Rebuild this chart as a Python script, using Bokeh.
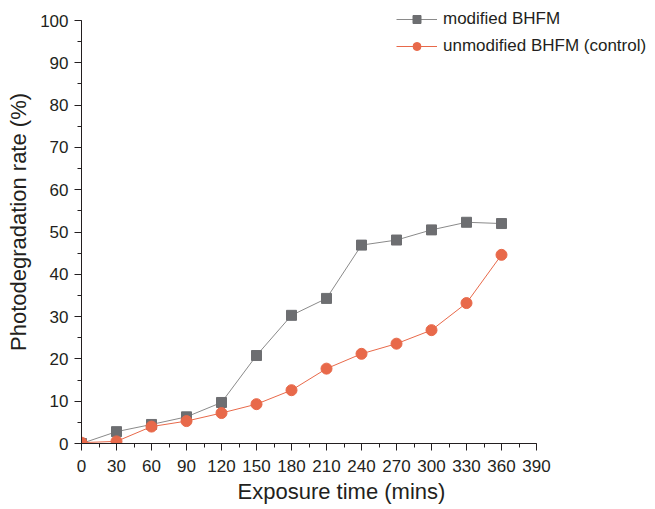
from bokeh.plotting import figure
from bokeh.models import Range1d, SingleIntervalTicker, Legend, LegendItem, Title
from bokeh.embed import file_html
from bokeh.resources import INLINE

time_mins = [0, 30, 60, 90, 120, 150, 180, 210, 240, 270, 300, 330, 360]
modified = [0.0, 2.8, 4.5, 6.3, 9.7, 20.8, 30.3, 34.3, 46.9, 48.1, 50.5, 52.3, 52.0]
unmodified = [0.2, 0.5, 4.0, 5.3, 7.2, 9.3, 12.6, 17.7, 21.2, 23.6, 26.8, 33.2, 44.6]
series_names = ["modified BHFM", "unmodified BHFM (control)"]
x_title = "Exposure time (mins)"
y_title = "Photodegradation rate (%)"
x_axis_max = 390
y_axis_max = 100

FONT = "Liberation Sans"
GRAY_LINE = "#8a8a8a"
GRAY_MARK = "#6d6e71"
ORANGE = "#e8694a"

W, H = 655, 509
LEFT, BOTTOM = 81, 66
frame_w = W - LEFT
frame_h = H - BOTTOM
# pixel scale: 390 min spans 455 px, 100 % spans 423 px
x_end = frame_w * x_axis_max / 455.0
y_end = frame_h * y_axis_max / 423.0

p = figure(width=W, height=H, output_backend="svg", toolbar_location=None,
           x_range=Range1d(0, x_end), y_range=Range1d(0, y_end),
           min_border_left=LEFT, min_border_right=0, min_border_top=0, min_border_bottom=BOTTOM)
p.outline_line_color = None
p.xgrid.grid_line_color = None
p.ygrid.grid_line_color = None
p.background_fill_color = "white"
p.border_fill_color = "white"

p.xaxis.ticker = SingleIntervalTicker(interval=30, num_minor_ticks=2)
p.yaxis.ticker = SingleIntervalTicker(interval=10, num_minor_ticks=2)
p.xaxis.bounds = (0, x_axis_max)
p.yaxis.bounds = (0, y_axis_max)
for ax in (p.xaxis[0], p.yaxis[0]):
    ax.axis_line_color = "#231f20"
    ax.axis_line_width = 1
    ax.major_tick_line_color = "#231f20"
    ax.minor_tick_line_color = "#231f20"
    ax.major_tick_out = 7
    ax.major_tick_in = 0
    ax.minor_tick_out = 4
    ax.minor_tick_in = 0
    ax.major_label_text_font = FONT
    ax.major_label_text_font_size = "17px"
    ax.major_label_text_color = "#231f20"
    ax.axis_label_text_font = FONT
    ax.axis_label_text_font_size = "22px"
    ax.axis_label_text_font_style = "normal"
    ax.axis_label_text_color = "#231f20"
p.yaxis.axis_label = y_title
p.xaxis.major_label_standoff = 9
p.yaxis.major_label_standoff = 6
p.yaxis.axis_label_standoff = 6

xt = Title(text=x_title, align="left", offset=156, standoff=4,
           text_font=FONT, text_font_size="22px", text_font_style="normal",
           text_color="#231f20")
p.add_layout(xt, "below")

l1 = p.line(time_mins, modified, line_color=GRAY_LINE, line_width=1)
m1 = p.scatter(time_mins, modified, marker="square", size=10, fill_color=GRAY_MARK, line_color=GRAY_MARK)
l2 = p.line(time_mins, unmodified, line_color=ORANGE, line_width=1)
m2 = p.scatter(time_mins, unmodified, marker="circle", size=11, fill_color=ORANGE, line_color=ORANGE)

legend = Legend(items=[LegendItem(label=series_names[0], renderers=[l1, m1]),
                       LegendItem(label=series_names[1], renderers=[l2, m2])],
                location=(315, 387))
legend.label_text_font = FONT
legend.label_text_font_size = "17px"
legend.label_text_color = "#231f20"
legend.glyph_width = 41
legend.glyph_height = 20
legend.label_height = 20
legend.spacing = 7
legend.label_standoff = 6
legend.padding = 0
legend.margin = 0
legend.border_line_alpha = 0
legend.background_fill_alpha = 0
p.add_layout(legend, "center")

open("out.html", "w").write(file_html(p, INLINE))
